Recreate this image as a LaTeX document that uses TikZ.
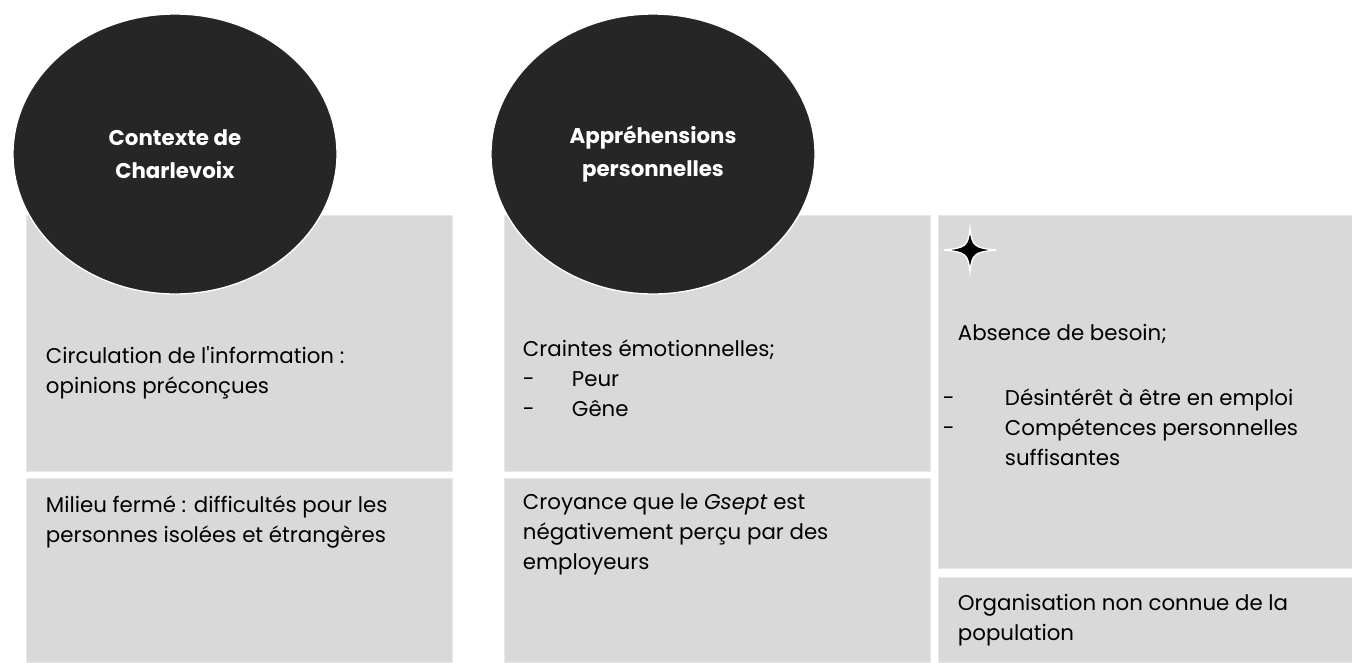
\documentclass[tikz,border=0pt]{standalone}
\usepackage{fontspec}
\setmainfont{Poppins}
\usepackage{tikz}
\usetikzlibrary{shapes.geometric,positioning}
\definecolor{panelgrey}{RGB}{217,217,217}
\definecolor{panelline}{RGB}{232,232,232}
\definecolor{bubbleblack}{RGB}{38,38,38}
\tikzstyle{panel} = [rectangle, fill=panelgrey, draw=panelline, line width=0.5pt, inner sep=0pt, minimum width=319.5pt]
\tikzstyle{bubble} = [ellipse, fill=bubbleblack, draw=white, line width=1pt, inner sep=0pt, minimum width=243pt, minimum height=210pt, text=white, align=center, font=\fontsize{16}{24.75}\selectfont\bfseries]
\tikzstyle{note} = [inner sep=0pt, align=left, anchor=north west, font=\fontsize{16}{22.5}\selectfont]
\tikzstyle{spark} = [fill=black, draw=white, line width=1pt]
\newcommand{\dashitem}[2][36.75pt]{\makebox[#1][l]{-}#2}

\begin{document}
\begin{tikzpicture}[x=0.75pt, y=-0.75pt]
\useasboundingbox (0,0) rectangle (1352,662);

% Grey panels
\node (ctxtop) [panel, minimum height=192pt] at (239,343) {};
\node (ctxbot) [panel, minimum height=138pt] at (239,570) {};
\node (apptop) [panel, minimum height=192pt] at (717,343) {};
\node (appbot) [panel, minimum height=138pt] at (717,570) {};
\node (needtop) [panel, minimum width=310.5pt, minimum height=264.75pt] at (1145,391.5) {};
\node (needbot) [panel, minimum width=310.5pt, minimum height=63.75pt] at (1145,619.5) {};

% Headings
\node (ctxhead) [bubble] at (175,154) {Contexte de\\Charlevoix};
\node (apphead) [bubble] at (653,154) {Appréhensions\\personnelles};

% Star marker
\begin{scope}[shift={(970,250)}]
\draw[spark] (-26.5,0) .. controls (-4,-2) and (-2,-4) .. (0,-22) .. controls (2,-4) and (4,-2) .. (26.5,0) .. controls (4,2) and (2,4) .. (0,22) .. controls (-2,4) and (-4,2) .. (-26.5,0) -- cycle;
\end{scope}

% Panel texts
\node (circ) [note, below right=99pt and 15pt of ctxtop.north west] {Circulation de l\textquotesingle information :\\opinions préconçues};
\node (fear) [note, below right=93.75pt and 14.25pt of apptop.north west] {Craintes émotionnelles;\\\dashitem{Peur}\\\dashitem{Gêne}};
\node (need) [note, below right=81.75pt and 15pt of needtop.north west] {Absence de besoin;\\[26.25pt]\hspace*{-11.25pt}\dashitem[46.5pt]{Désintérêt à être en emploi}\\\hspace*{-11.25pt}\dashitem[46.5pt]{Compétences personnelles}\\\hspace*{35.25pt}suffisantes};
\node (closed) [note, below right=13.5pt and 15pt of ctxbot.north west] {Milieu fermé : difficultés pour les\\personnes isolées et étrangères};
\node (belief) [note, below right=12pt and 14.25pt of appbot.north west] {Croyance que le \textit{Gsept} est\\négativement perçu par des\\employeurs};
\node (unknown) [note, below right=12.75pt and 15pt of needbot.north west] {Organisation non connue de la\\population};
\end{tikzpicture}
\end{document}
